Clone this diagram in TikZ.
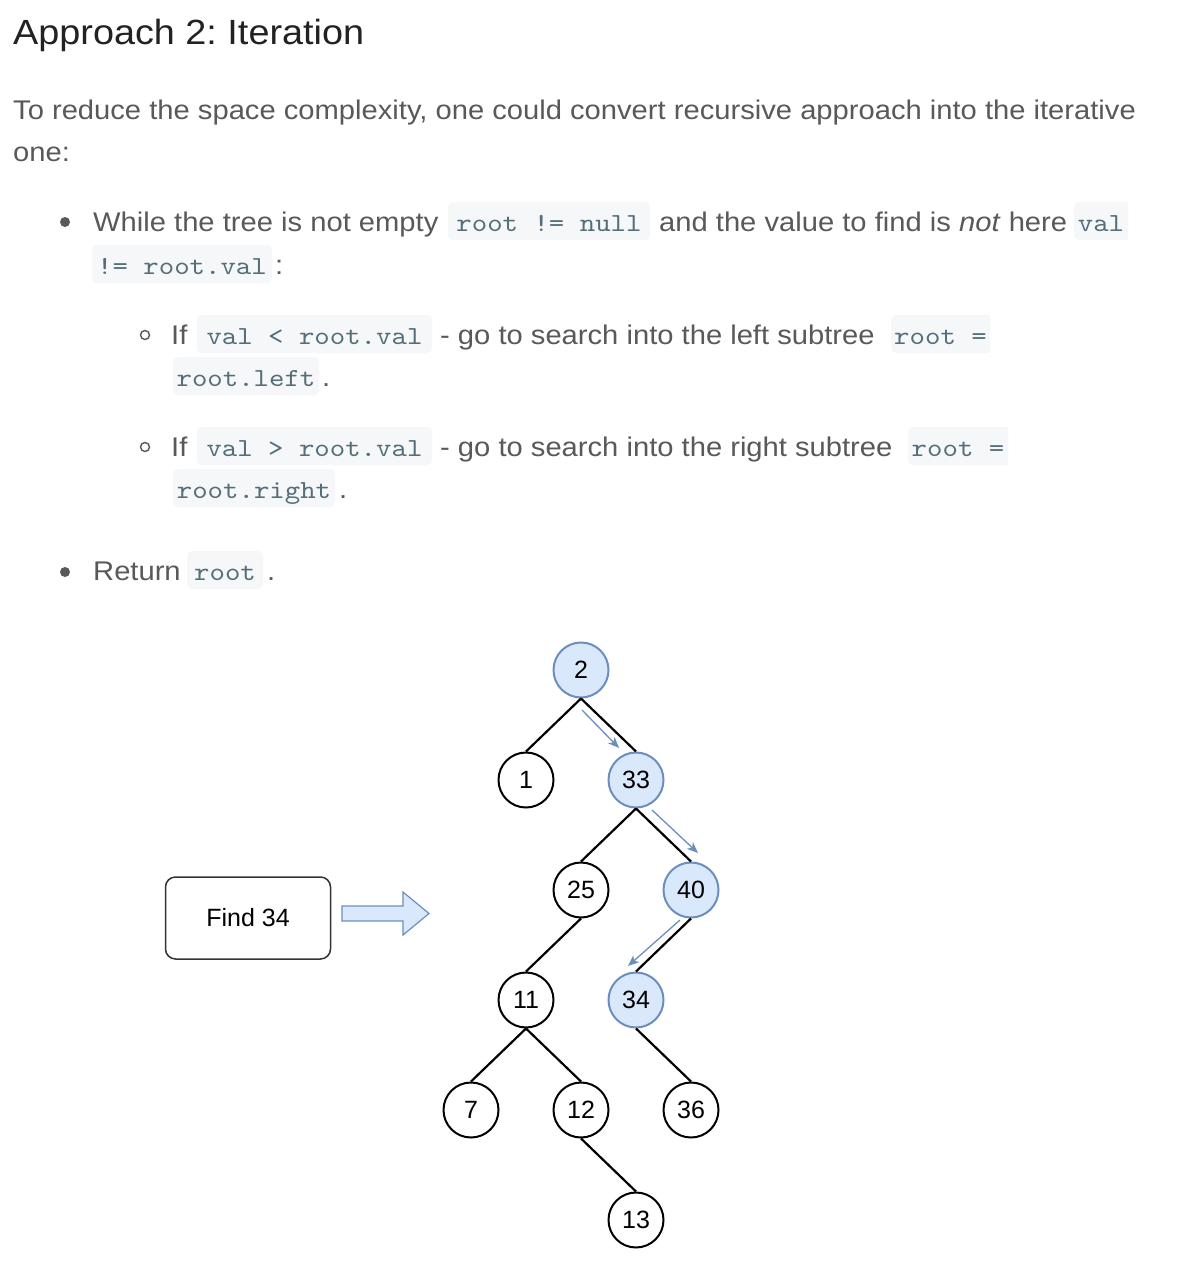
\documentclass[tikz,border=0pt]{standalone}
\usepackage{fontspec}
\setmainfont{Liberation Sans}[FakeStretch=1.08]
\newfontfamily\codefont{lmmono10-regular.otf}[FakeStretch=1.13]
\newfontfamily\treefont{Liberation Sans}
\usetikzlibrary{arrows.meta}
\frenchspacing
\definecolor{titletext}{HTML}{222222}
\definecolor{bodytext}{HTML}{595959}
\definecolor{codetext}{HTML}{546E7A}
\definecolor{codebg}{HTML}{F5F7F9}
\definecolor{hlfill}{HTML}{DAE8FC}
\definecolor{hlborder}{HTML}{6C8EBF}
\tikzset{
  tnode/.style={circle, draw=black, line width=2pt, fill=white, minimum size=55pt, inner sep=0pt,
    font=\treefont\fontsize{25}{29}\selectfont},
  hnode/.style={tnode, draw=hlborder, fill=hlfill},
  treeedge/.style={line width=2.2pt, black},
  flowarrow/.style={hlborder, line width=1.3pt, -{Stealth[length=11pt,width=9pt,inset=3pt]}},
  bodytxt/.style={anchor=base west, inner sep=0pt, text=bodytext, font=\fontsize{27}{32}\selectfont},
  codebox/.style={anchor=base, fill=codebg, rounded corners=5pt, text=codetext,
    font=\codefont\fontsize{26}{30}\selectfont, text height=23pt, text depth=3pt,
    inner ysep=6pt, inner xsep=0pt},
  bulletdot/.style={circle, fill=bodytext, inner sep=0pt, minimum size=10pt},
  subbullet/.style={circle, draw=bodytext, line width=1.4pt, inner sep=0pt, minimum size=9pt},
  findbox/.style={draw=black!80, line width=1.5pt, rounded corners=10pt, minimum width=165pt,
    minimum height=82pt, font=\treefont\fontsize{25}{29}\selectfont},
}
\begin{document}
\begin{tikzpicture}[x=1pt,y=-1pt]
\path[use as bounding box, fill=white] (0,0) rectangle (1182,1276);

% title and intro
\node[anchor=base west, inner sep=0pt, text=titletext, font=\fontsize{35}{40}\selectfont] (title) at (13,45) {Approach 2: Iteration};
\node[bodytxt] (p1) at (13,120) {To reduce the space complexity, one could convert recursive approach into the iterative};
\node[bodytxt] (p2) at (13,162) {one:};

% bullet 1
\node[bulletdot] (b1) at (65,222) {};
\node[bodytxt] (l1a) at (93,231) {While the tree is not empty};
\node[codebox, minimum width=202pt] (c1) at (549,231) {root != null};
\node[bodytxt] (l1b) at (659,231) {and the value to find is \emph{not} here};
\fill[codebg] (1101,202) rectangle (1128,240);
\node[codebox, minimum width=54pt] (c2) at (1101,231) {val};
\node[codebox, minimum width=180pt] (c3) at (182,274) {!= root.val};
\node[bodytxt] (l2a) at (275,274) {:};

% sub bullet 1
\node[subbullet] (s1) at (145,335) {};
\node[bodytxt] (l3a) at (171,344) {If};
\node[codebox, minimum width=235pt] (c4) at (314.5,344) {val < root.val};
\node[bodytxt] (l3b) at (440,344) {- go to search into the left subtree};
\fill[codebg] (940,315) rectangle (990,353);
\node[codebox, minimum width=99pt] (c5) at (940.5,344) {root =};
\node[codebox, minimum width=146pt] (c6) at (246,386) {root.left};
\node[bodytxt] (l4a) at (322,386) {.};

% sub bullet 2
\node[subbullet] (s2) at (145,447) {};
\node[bodytxt] (l5a) at (171,456) {If};
\node[codebox, minimum width=235pt] (c7) at (314.5,456) {val > root.val};
\node[bodytxt] (l5b) at (440,456) {- go to search into the right subtree};
\fill[codebg] (958,427) rectangle (1008,465);
\node[codebox, minimum width=100pt] (c8) at (958,456) {root =};
\node[codebox, minimum width=162pt] (c9) at (254,498) {root.right};
\node[bodytxt] (l6a) at (339,498) {.};

% bullet 2
\node[bulletdot] (b2) at (65,572) {};
\node[bodytxt] (l7a) at (93,580) {Return};
\node[codebox, minimum width=76pt] (c10) at (225,580) {root};
\node[bodytxt] (l7b) at (267,580) {.};

% find box and block arrow
\node[findbox] (find) at (248,918) {Find 34};
\draw[hlborder, fill=hlfill, line width=1.2pt, line join=miter]
  (342,906) -- (403,906) -- (403,892) -- (429,913.5) -- (403,935) -- (403,921) -- (342,921) -- cycle;

% tree
\node[hnode] (n2)  at (581,670)  {2};
\node[tnode] (n1)  at (526,780)  {1};
\node[hnode] (n33) at (636,780)  {33};
\node[tnode] (n25) at (581,890)  {25};
\node[hnode] (n40) at (691,890)  {40};
\node[tnode] (n11) at (526,1000) {11};
\node[hnode] (n34) at (636,1000) {34};
\node[tnode] (n7)  at (471,1110) {7};
\node[tnode] (n12) at (581,1110) {12};
\node[tnode] (n36) at (691,1110) {36};
\node[tnode] (n13) at (636,1220) {13};

\draw[treeedge] (n2.south) -- (n1.north);
\draw[treeedge] (n2.south) -- (n33.north);
\draw[treeedge] (n33.south) -- (n25.north);
\draw[treeedge] (n33.south) -- (n40.north);
\draw[treeedge] (n25.south) -- (n11.north);
\draw[treeedge] (n40.south) -- (n34.north);
\draw[treeedge] (n11.south) -- (n7.north);
\draw[treeedge] (n11.south) -- (n12.north);
\draw[treeedge] (n34.south) -- (n36.north);
\draw[treeedge] (n12.south) -- (n13.north);

% search path arrows
\coordinate (a1s) at (582,710);
\coordinate (a1e) at (619,748);
\coordinate (a2s) at (652,810);
\coordinate (a2e) at (698,853);
\coordinate (a3s) at (680,920);
\coordinate (a3e) at (628,966);
\draw[flowarrow] (a1s) -- (a1e);
\draw[flowarrow] (a2s) -- (a2e);
\draw[flowarrow] (a3s) -- (a3e);
\end{tikzpicture}
\end{document}
